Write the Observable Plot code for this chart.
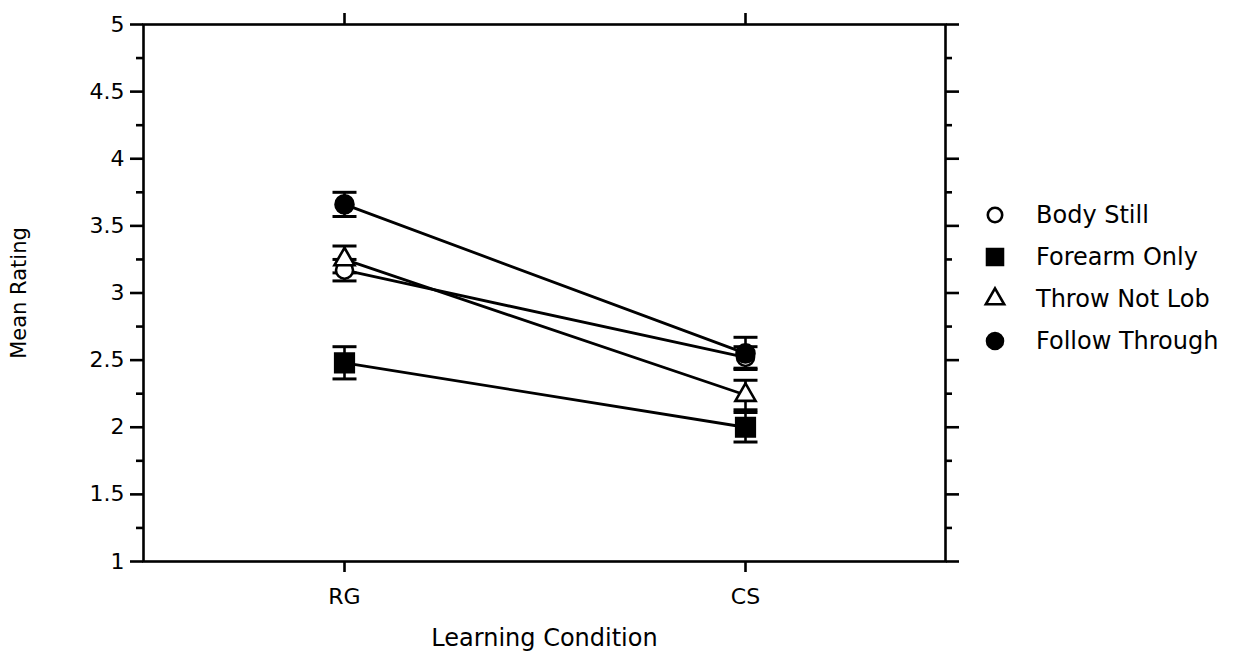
<!DOCTYPE html>
<html>
<head>
<meta charset="utf-8">
<script src="https://cdn.jsdelivr.net/npm/d3@7"></script>
<script src="https://cdn.jsdelivr.net/npm/@observablehq/plot@0.6"></script>
<style>
  html, body { margin: 0; padding: 0; background: #fff; }
  #wrap { position: relative; width: 1236px; height: 664px; }
  #legend { position: absolute; left: 982px; top: 194px; font-family: "DejaVu Sans", Verdana, sans-serif; font-size: 24px; color: #000; }
  #legend .row { display: flex; align-items: center; height: 42px; }
  #legend svg { width: 26px; height: 26px; margin-right: 28px; overflow: visible; }
  .axfont text { font-family: "DejaVu Sans", "Open Sans", sans-serif; }
  .axfont g[aria-label="y-axis tick label"] text { font-size: 22px !important; }
  .axfont g[aria-label="x-axis tick label"] text { font-size: 22px !important; }
  .axfont g[aria-label="y-axis label"] text { font-size: 21px !important; }
  .axfont g[aria-label="x-axis label"] text { font-size: 24px !important; }
</style>
</head>
<body>
<div id="wrap"></div>
<script>
// ---- data ----
const conditions = ["RG", "CS"];
const seriesNames = ["Body Still", "Forearm Only", "Throw Not Lob", "Follow Through"];
const meanRG = [3.17, 2.48, 3.25, 3.66];
const meanCS = [2.52, 2.00, 2.24, 2.55];
const seRG = [0.08, 0.12, 0.10, 0.09];
const seCS = [0.08, 0.11, 0.11, 0.12];
const symbols = ["circle", "square", "triangle", "circle"];
const fills = ["white", "black", "white", "black"];
const radii = [8.5, 10.5, 7.5, 9];
const yMajorTicks = [1, 1.5, 2, 2.5, 3, 3.5, 4, 4.5, 5];
const yMinorTicks = [1.25, 1.75, 2.25, 2.75, 3.25, 3.75, 4.25, 4.75];

const data = [];
seriesNames.forEach((s, i) => {
  data.push({series: s, cond: "RG", mean: meanRG[i], lo: meanRG[i] - seRG[i], hi: meanRG[i] + seRG[i], idx: i});
  data.push({series: s, cond: "CS", mean: meanCS[i], lo: meanCS[i] - seCS[i], hi: meanCS[i] + seCS[i], idx: i});
});

// horizontal-bar symbol for error-bar caps
const capSymbol = {
  draw(context, size) {
    const w = Math.sqrt(size / Math.PI);
    context.moveTo(-w, 0);
    context.lineTo(w, 0);
  }
};

const lw = 2.6;
const marks = [
  Plot.frame({stroke: "black", strokeWidth: lw}),
  // left axis
  Plot.axisY({ticks: yMajorTicks, tickSize: 13, tickPadding: 6, tickFormat: d => String(d), strokeWidth: lw,
    label: "Mean Rating", labelAnchor: "center", labelArrow: "none", labelOffset: 132}),
  Plot.axisY({ticks: yMinorTicks, tickSize: 7, tickFormat: () => "", strokeWidth: lw, label: null}),
  // right axis
  Plot.axisY({anchor: "right", ticks: yMajorTicks, tickSize: 13, tickFormat: () => "", strokeWidth: lw, label: null}),
  Plot.axisY({anchor: "right", ticks: yMinorTicks, tickSize: 6, tickFormat: () => "", strokeWidth: lw, label: null}),
  // top axis
  Plot.axisX({anchor: "top", tickSize: 12, tickFormat: () => "", strokeWidth: lw, label: null}),
  // bottom axis
  Plot.axisX({anchor: "bottom", tickSize: 11, tickPadding: 16, strokeWidth: lw,
    label: "Learning Condition", labelAnchor: "center", labelArrow: "none", labelOffset: 84}),
  // connecting lines
  Plot.line(data, {x: "cond", y: "mean", z: "series", stroke: "black", strokeWidth: 2.8}),
  // error bars
  Plot.ruleX(data, {x: "cond", y1: "lo", y2: "hi", stroke: "black", strokeWidth: 2.6}),
  Plot.dot(data, {x: "cond", y: "lo", symbol: capSymbol, r: 12, fill: "none", stroke: "black", strokeWidth: 3}),
  Plot.dot(data, {x: "cond", y: "hi", symbol: capSymbol, r: 12, fill: "none", stroke: "black", strokeWidth: 3}),
];
seriesNames.forEach((s, i) => {
  marks.push(Plot.dot(data.filter(d => d.idx === i), {x: "cond", y: "mean", symbol: symbols[i], r: radii[i],
    fill: fills[i], stroke: "black", strokeWidth: 2.6}));
});

const chart = Plot.plot({
  width: 1236,
  height: 664,
  marginLeft: 143,
  marginRight: 291,
  marginTop: 24,
  marginBottom: 103,
  className: "axfont",
  style: {background: "white", color: "black", fontSize: "20px"},
  x: {type: "point", domain: conditions, padding: 0.5},
  y: {domain: [1, 5]},
  marks
});
document.getElementById("wrap").appendChild(chart);

// legend (HTML, beside the plot)
const legend = document.createElement("div");
legend.id = "legend";
const legendRadii = [7.2, 9, 6.8, 8];
seriesNames.forEach((s, i) => {
  const row = document.createElement("div");
  row.className = "row";
  const svg = d3.create("svg").attr("viewBox", "-13 -13 26 26");
  const typ = {circle: d3.symbolCircle, square: d3.symbolSquare, triangle: d3.symbolTriangle}[symbols[i]];
  const legR = legendRadii[i];
  svg.append("path").attr("d", d3.symbol(typ, Math.PI * legR * legR)())
    .attr("fill", fills[i]).attr("stroke", "black").attr("stroke-width", 2.6);
  row.appendChild(svg.node());
  const t = document.createElement("span");
  t.textContent = s;
  row.appendChild(t);
  legend.appendChild(row);
});
document.getElementById("wrap").appendChild(legend);
</script>
</body>
</html>
